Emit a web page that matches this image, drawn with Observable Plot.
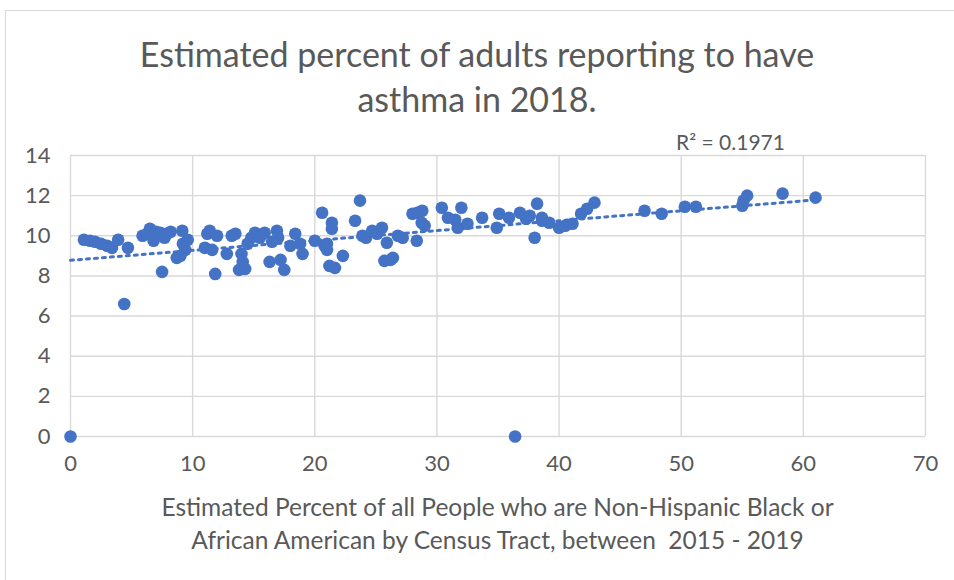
<!DOCTYPE html>
<html>
<head>
<meta charset="utf-8">
<script src="https://cdn.jsdelivr.net/npm/d3@7"></script>
<script src="https://cdn.jsdelivr.net/npm/@observablehq/plot@0.6"></script>
<style>
  html, body { margin: 0; padding: 0; background: #fff; }
  #wrap { position: relative; width: 954px; height: 580px; font-family: Lato, "Open Sans", sans-serif; color: #595959; overflow: hidden; }
  #frame { position: absolute; left: 5px; top: 10px; width: 960px; height: 600px; border: 1px solid #d9d9d9; box-sizing: border-box; }
  #title { position: absolute; top: 31px; left: 0; width: 954px; text-align: center; font-size: 34px; line-height: 45px; }
  #chart { position: absolute; top: 125px; left: 0; }
  #r2 { position: absolute; top: 129px; left: 676px; font-size: 21px; }
  #xlabel { position: absolute; top: 490px; left: 70px; width: 855px; text-align: center; font-size: 24.5px; line-height: 33px; }
</style>
</head>
<body>
<div id="wrap">
  <div id="frame"></div>
  <div id="title"></div>
  <div id="chart"></div>
  <div id="r2"></div>
  <div id="xlabel"></div>
</div>
<script>
const titleLines = ["Estimated percent of adults reporting to have", "asthma in 2018."];
const xLabelLines = ["Estimated Percent of all People who are Non-Hispanic Black or", "African American by Census Tract, between  2015 - 2019"];
const r2Label = "R² = 0.1971";
const xTicks = [0, 10, 20, 30, 40, 50, 60, 70];
const yTicks = [0, 2, 4, 6, 8, 10, 12, 14];

// Percent Non-Hispanic Black (x) per census tract
const pctBlack = [
  0, 1.1, 1.6, 2.0, 2.5, 3.0, 3.4, 3.9, 4.4, 4.7,
  5.9, 6.3, 6.5, 6.8, 7.0, 7.35, 7.5, 7.7, 7.9, 8.2,
  8.7, 9.0, 9.15, 9.2, 9.4, 9.6, 11.0, 11.2, 11.4, 11.6,
  11.85, 12.0, 12.8, 13.2, 13.5, 13.8, 14.0, 14.1, 14.3, 14.5,
  14.8, 15.1, 15.5, 15.9, 16.3, 16.5, 16.9, 17.0, 17.2, 17.5,
  18.0, 18.4, 18.8, 19.0, 20.0, 20.6, 20.8, 21.0, 21.2, 21.4,
  21.4, 21.65, 21.0, 22.3, 23.3, 23.7, 23.9, 24.2, 24.7, 25.1,
  25.5, 25.9, 25.7, 26.4, 26.2, 26.8, 27.2, 28.0, 28.4, 28.35,
  28.75, 28.8, 29.0, 30.4, 30.9, 31.5, 31.7, 32.0, 32.5, 33.7,
  34.9, 35.1, 35.9, 36.4, 36.8, 37.3, 37.6, 38.0, 38.2, 38.6,
  38.6, 39.2, 40.0, 40.5, 41.1, 41.8, 42.3, 42.9, 47.0, 48.4,
  50.3, 51.2, 55.0, 55.1, 55.4, 58.3, 61.0
];
// Estimated percent of adults with asthma (y)
const pctAsthma = [
  0, 9.8, 9.75, 9.7, 9.6, 9.5, 9.4, 9.8, 6.6, 9.4,
  10.0, 10.1, 10.35, 9.75, 10.2, 10.15, 8.2, 9.9, 10.1, 10.2,
  8.9, 9.0, 10.25, 9.6, 9.3, 9.8, 9.4, 10.1, 10.25, 9.3,
  8.1, 10.0, 9.1, 10.0, 10.1, 8.3, 9.1, 8.7, 8.35, 9.6,
  9.9, 10.15, 9.9, 10.15, 8.7, 9.7, 10.25, 9.9, 8.8, 8.3,
  9.5, 10.1, 9.6, 9.1, 9.75, 11.15, 9.5, 9.6, 8.5, 10.65,
  10.35, 8.4, 9.3, 9.0, 10.75, 11.75, 10.0, 9.9, 10.25, 10.1,
  10.4, 9.65, 8.75, 8.9, 8.8, 10.0, 9.9, 11.1, 11.15, 9.75,
  10.65, 11.25, 10.5, 11.4, 10.9, 10.8, 10.4, 11.4, 10.6, 10.9,
  10.4, 11.1, 10.9, 0, 11.15, 10.85, 11.0, 9.9, 11.6, 10.9,
  10.75, 10.65, 10.4, 10.5, 10.6, 11.1, 11.35, 11.65, 11.25, 11.1,
  11.45, 11.45, 11.5, 11.75, 12.0, 12.1, 11.9
];

const data = pctBlack.map((x, i) => ({x, y: pctAsthma[i]}));

document.getElementById("title").innerHTML = titleLines.map(t => `<div>${t}</div>`).join("");
document.getElementById("xlabel").innerHTML = xLabelLines.map(t => `<div style="white-space:pre">${t}</div>`).join("");
document.getElementById("r2").textContent = r2Label;

const blue = "#4472C4";
const grid = "#d9d9d9";

const chart = Plot.plot({
  width: 954,
  height: 355,
  marginLeft: 70,
  marginRight: 29,
  marginTop: 30,
  marginBottom: 44,
  style: {fontFamily: "Lato, sans-serif", fontSize: "22px", color: "#595959", background: "transparent", overflow: "visible"},
  x: {domain: [0, 70], ticks: xTicks},
  y: {domain: [0, 14], ticks: yTicks},
  marks: [
    Plot.gridX(xTicks, {stroke: grid, strokeOpacity: 1, strokeWidth: 1.4}),
    Plot.gridY(yTicks, {stroke: grid, strokeOpacity: 1, strokeWidth: 1.4}),
    Plot.axisX(xTicks, {tickSize: 0, tickPadding: 19, label: null, fill: "#595959"}),
    Plot.axisY(yTicks, {tickSize: 0, tickPadding: 20, label: null, fill: "#595959"}),
    Plot.linearRegressionY(data, {x: "x", y: "y", stroke: blue, strokeWidth: 3, strokeDasharray: "3,5", ci: 0}),
    Plot.dot(data, {x: "x", y: "y", r: 6.3, fill: blue, stroke: "none"})
  ]
});
document.getElementById("chart").appendChild(chart);
</script>
</body>
</html>
